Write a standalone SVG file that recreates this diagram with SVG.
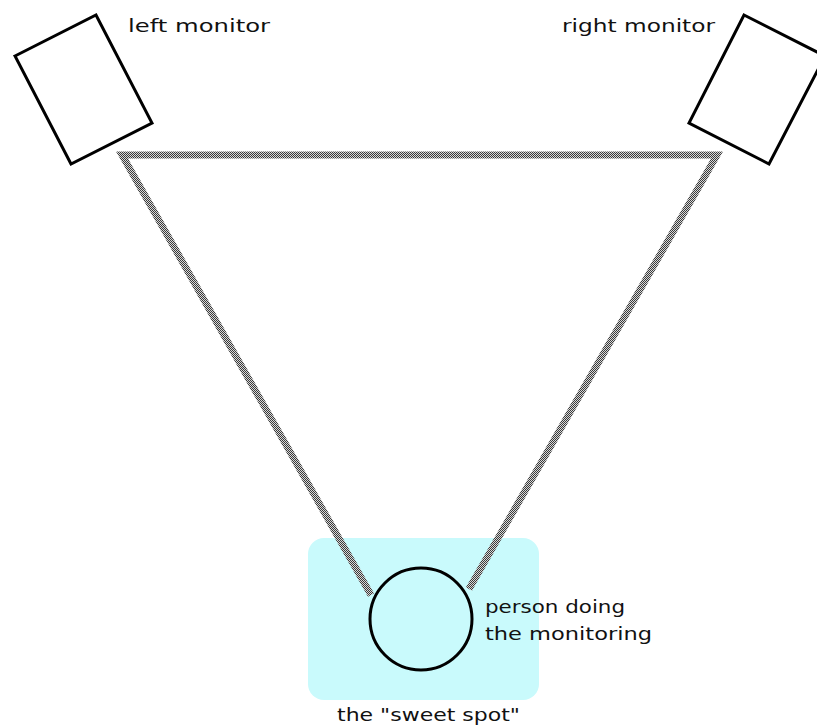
<svg xmlns="http://www.w3.org/2000/svg" width="817" height="728" viewBox="0 0 817 728">
<defs>
<pattern id="chk" patternUnits="userSpaceOnUse" width="2" height="2">
<rect width="2" height="2" fill="#d8d8d8"/>
<rect width="1" height="1" fill="#3a3a3a"/>
<rect x="1" y="1" width="1" height="1" fill="#3a3a3a"/>
</pattern>
</defs>
<style>
.mon{fill:#fff;stroke:#000;stroke-width:3;stroke-linejoin:miter}
.lbl{font-family:"DejaVu Sans",sans-serif;font-size:18px;fill:#111}
.band{fill:none;stroke:url(#chk);stroke-width:7;stroke-linejoin:miter}
</style>
<rect width="817" height="728" fill="#fff"/>
<g id="sweet-spot">
<rect x="308" y="538" width="231" height="162" rx="16" fill="#c9fafc"/>
<text class="lbl" x="337" y="721" textLength="183" lengthAdjust="spacingAndGlyphs">the "sweet spot"</text>
</g>
<g id="connectors">
<polyline class="band" points="371,595 122,155 717,155 469,589"/>
</g>
<g id="left-monitor">
<polygon class="mon" points="15,56 96,15 152,123 71,164"/>
<text class="lbl" x="128" y="32" textLength="142" lengthAdjust="spacingAndGlyphs">left monitor</text>
</g>
<g id="right-monitor">
<polygon class="mon" points="744,15 825,56 769,164 689,123"/>
<text class="lbl" x="562" y="32" textLength="153" lengthAdjust="spacingAndGlyphs">right monitor</text>
</g>
<g id="person">
<circle cx="421" cy="619" r="51" fill="#c9fafc" stroke="#000" stroke-width="3"/>
<text class="lbl" x="485" y="613" textLength="140" lengthAdjust="spacingAndGlyphs">person doing</text>
<text class="lbl" x="485" y="640" textLength="167" lengthAdjust="spacingAndGlyphs">the monitoring</text>
</g>
</svg>
